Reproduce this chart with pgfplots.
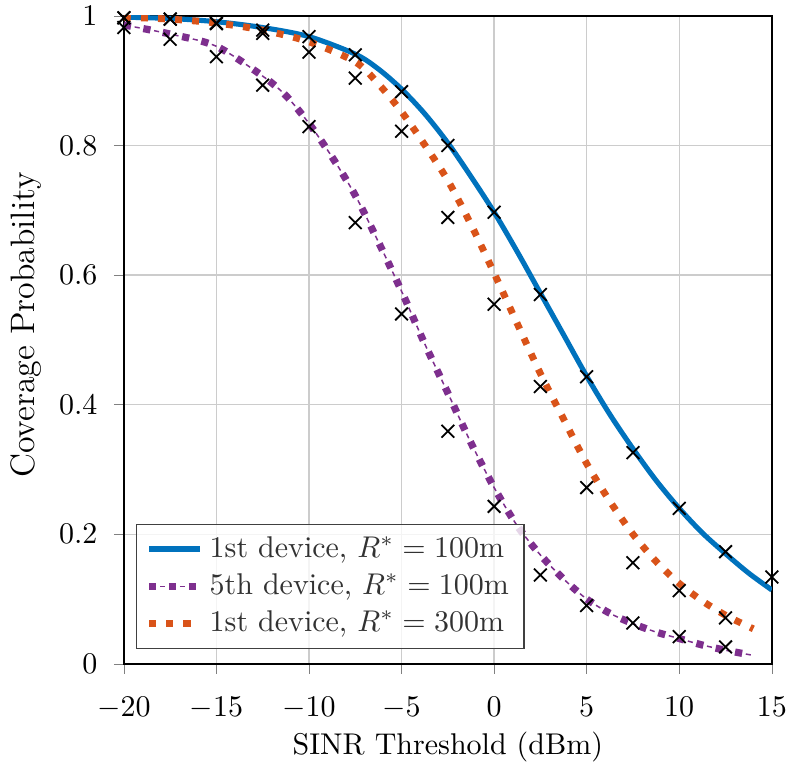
\documentclass[border=0pt]{standalone}
\usepackage{pgfplots}
\pgfplotsset{compat=1.18}
\definecolor{mblue}{rgb}{0,0.447,0.741}
\definecolor{morange}{rgb}{0.85,0.325,0.098}
\definecolor{mpurple}{rgb}{0.494,0.184,0.556}
\pgfplotstableread{
x y
-20 0.986
-17.5 0.972
-15 0.953
-12.5 0.907
-11.25 0.877
-10 0.834
-8.75 0.782
-7.5 0.723
-6.25 0.651
-5 0.575
-3.75 0.494
-2.5 0.418
-1.25 0.341
0 0.272
1.25 0.213
2.5 0.168
3.75 0.131
5 0.100
6.25 0.078
7.5 0.062
8.75 0.049
10 0.039
11.25 0.029
12.5 0.021
14 0.013
}\purpledata
\begin{document}
\begin{tikzpicture}
\begin{axis}[
  scale only axis,
  width=216pt, height=216pt,
  xmin=-20, xmax=15, ymin=0, ymax=1,
  xtick={-20,-15,...,15},
  ytick={0,0.2,0.4,0.6,0.8,1},
  grid=major,
  grid style={color=black!20, line width=0.45pt},
  tick align=outside, tick pos=left,
  major tick length=3.3pt,
  axis line style={line width=0.6pt},
  xticklabel style={yshift=-4.2pt},
  yticklabel style={xshift=-2pt},
  xlabel={SINR Threshold (dBm)},
  ylabel={Coverage Probability},
  xlabel style={yshift=2.5pt},
  ylabel style={font=\fontsize{11.3}{13.6}\selectfont, xshift=5pt, yshift=-1pt},
  legend cell align=left,
  legend style={at={(0.0185,0.023)}, anchor=south west, fill opacity=0.8, draw opacity=1, text opacity=0.8, draw=black!75, font=\normalsize},
]
\addplot[mblue, line width=1.7pt, smooth] coordinates {
(-20,0.998) (-17.5,0.996) (-15,0.991) (-12.5,0.982) (-10,0.968) (-7.5,0.941)
(-6.25,0.918) (-5,0.887) (-3.75,0.849) (-2.5,0.804) (-1.25,0.752) (0,0.697)
(1.25,0.636) (2.5,0.572) (3.75,0.508) (5,0.444) (6.25,0.385) (7.5,0.332)
(8.75,0.283) (10,0.240) (11.25,0.202) (12.5,0.170) (13.75,0.140) (15,0.114)
};
\addlegendentry{1st device, $R^{*}=100$m}
\addlegendimage{mpurple, legend image code/.code={
    \draw[mpurple, line width=2.4pt, dash pattern=on 2.4pt off 4.2pt] (0cm,0cm) -- (0.55cm,0cm);
    \draw[mpurple, line width=0.5pt, dash pattern=on 1.7pt off 4.9pt, dash phase=2.95pt] (0cm,0cm) -- (0.55cm,0cm);
  }}
\addlegendentry{5th device, $R^{*}=100$m}
\addplot[draw=mpurple, line width=2.4pt, dash pattern=on 2.4pt off 4.2pt, smooth, forget plot] table {\purpledata};
\addplot[draw=mpurple, line width=0.5pt, dash pattern=on 1.7pt off 4.9pt, dash phase=2.95pt, smooth, forget plot] table {\purpledata};
\addplot[morange, line width=2.3pt, dash pattern=on 2.3pt off 3.4pt, smooth] coordinates {
(-20,0.998) (-17.5,0.995) (-15,0.989) (-12.5,0.978) (-10,0.960) (-7.5,0.929)
(-6.25,0.895) (-5,0.852) (-3.75,0.801) (-2.5,0.746) (-1.25,0.678) (0,0.603)
(1.25,0.525) (2.5,0.448) (3.75,0.378) (5,0.309) (6.25,0.251) (7.5,0.200)
(8.75,0.158) (10,0.124) (11.25,0.097) (12.5,0.075) (14,0.054)
};
\addlegendentry{1st device, $R^{*}=300$m}
\addplot[only marks, mark=x, mark size=3pt, black, mark options={line width=0.6pt}, forget plot] coordinates {
(-20,0.997) (-17.5,0.995) (-15,0.989) (-12.5,0.978) (-10,0.968) (-7.5,0.940)
(-5,0.883) (-2.5,0.800) (0,0.697) (2.5,0.570) (5,0.443) (7.5,0.326)
(10,0.240) (12.5,0.173) (15,0.134)
};
\addplot[only marks, mark=x, mark size=3pt, black, mark options={line width=0.6pt}, forget plot] coordinates {
(-20,0.997) (-17.5,0.995) (-15,0.988) (-12.5,0.973) (-10,0.944) (-7.5,0.904)
(-5,0.822) (-2.5,0.689) (0,0.555) (2.5,0.428) (5,0.272) (7.5,0.156)
(10,0.113) (12.5,0.071)
};
\addplot[only marks, mark=x, mark size=3pt, black, mark options={line width=0.6pt}, forget plot] coordinates {
(-20,0.982) (-17.5,0.964) (-15,0.937) (-12.5,0.893) (-10,0.829) (-7.5,0.681)
(-5,0.540) (-2.5,0.359) (0,0.243) (2.5,0.137) (5,0.090) (7.5,0.063)
(10,0.042) (12.5,0.026)
};
\end{axis}
\pgfresetboundingbox
\path[use as bounding box] ([xshift=-41.3pt,yshift=-33.3pt]current axis.south west) rectangle ([xshift=5.4pt,yshift=5.3pt]current axis.north east);
\end{tikzpicture}
\end{document}
